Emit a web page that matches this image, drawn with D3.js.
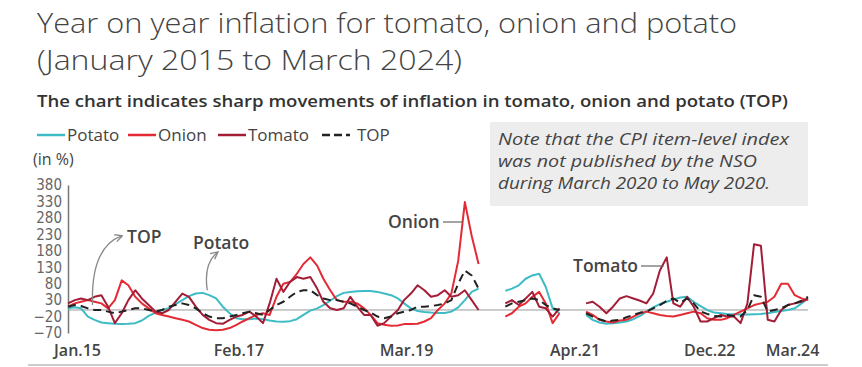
<!DOCTYPE html>
<html>
<head>
<meta charset="utf-8">
<script src="https://cdn.jsdelivr.net/npm/d3@7"></script>
<style>
  body { margin: 0; background: #fff; }
  text { font-family: "Open Sans", sans-serif; }
</style>
</head>
<body>
<svg width="862" height="367"></svg>
<script>
// months Jan 2015 .. Mar 2024, null = index not published / no YoY value
var startMonth = new Date(2015, 0, 1);
var potato = [5,8,5,-20,-30,-38,-40,-42,-43,-42,-40,-32,-18,-8,0,5,18,30,42,50,
  52,45,35,10,-10,-25,-28,-28,-26,-28,-32,-35,-36,-34,-28,-15,-2,5,15,28,
  42,52,55,57,58,58,55,50,45,35,20,5,-3,-6,-8,-9,-9,-5,8,30,
  55,65,null,null,null,58,65,75,95,105,110,70,5,-10,null,null,null,-15,-30,-38,
  -42,-40,-38,-35,-28,-18,-5,8,18,25,32,38,40,25,12,0,-8,-10,-12,-13,
  -14,-14,-13,-12,-10,-6,-3,0,5,20,35];
var onion = [10,20,25,30,25,20,5,30,90,75,40,20,5,-10,-15,-20,-25,-30,-35,-45,
  -55,-60,-62,-60,-55,-45,-35,-25,-15,-10,-15,40,80,85,110,140,160,135,95,60,
  30,25,25,20,5,-15,-40,-45,-48,-47,-43,-43,-42,-35,-25,0,20,50,150,328,
  225,140,null,null,null,-20,-10,10,20,40,55,20,-40,-10,null,null,null,-5,-15,-30,
  -35,-38,-32,-30,-20,-10,-5,-10,-15,-18,-20,-15,-10,-5,-10,-25,-30,-30,-25,-15,
  -5,5,15,20,25,40,80,80,45,35,30];
var tomato = [20,30,35,30,40,45,10,-40,-10,30,60,35,15,-5,-10,0,25,50,40,10,
  -15,-30,-40,-42,-30,-20,-15,-5,-20,-40,20,95,55,85,100,95,100,65,25,5,
  0,5,40,10,-15,-15,-48,-40,-20,0,30,50,75,60,40,45,60,40,45,60,
  30,0,null,null,null,20,30,15,35,55,10,5,-20,5,null,null,null,20,25,10,
  -10,10,35,42,35,28,20,50,120,160,20,10,40,10,-35,-35,-25,-15,-20,-20,
  -40,20,200,195,-30,-35,0,15,20,25,35];
var top3 = [10,15,12,5,0,0,-5,-10,-5,0,5,5,0,-5,0,10,15,20,15,5,
  -10,-20,-25,-25,-20,-15,-10,-5,-10,-15,0,15,25,40,55,60,60,45,35,30,
  30,25,20,10,0,-8,-20,-25,-20,-10,-5,0,10,10,12,15,20,30,80,120,
  105,65,null,null,null,10,20,25,30,35,30,15,5,0,null,null,null,-10,-20,-28,
  -35,-32,-30,-22,-15,-8,-5,5,15,28,35,22,35,20,-5,-12,-18,-20,-15,-18,
  -20,0,45,40,-5,0,5,15,20,28,40];
var yTicks = [-70,-20,30,80,130,180,230,280,330,380];
var xTickDates = [[2015,0,"Jan.15"],[2017,1,"Feb.17"],[2019,2,"Mar.19"],[2021,3,"Apr.21"],[2022,11,"Dec.22"],[2024,2,"Mar.24"]];
var seriesNames = ["Potato","Onion","Tomato","TOP"];
var seriesColors = ["#3dbcc6","#e42b35","#a31d37","#222"];

var svg = d3.select("svg");
var months = potato.map(function(d,i){ return d3.timeMonth.offset(startMonth, i); });

var x = d3.scaleTime().domain([months[0], months[months.length-1]]).range([68, 808]);
var y = d3.scaleLinear().domain([-70, 380]).range([333, 185]);

// title block
svg.append("text").attr("x",37).attr("y",33).attr("fill","#444")
  .style("font-size","27px").style("font-weight",300)
  .attr("textLength",700).attr("lengthAdjust","spacingAndGlyphs")
  .text("Year on year inflation for tomato, onion and potato");
svg.append("text").attr("x",37).attr("y",70).attr("fill","#444")
  .style("font-size","27px").style("font-weight",300)
  .attr("textLength",425).attr("lengthAdjust","spacingAndGlyphs")
  .text("(January 2015 to March 2024)");
svg.append("text").attr("x",37).attr("y",107).attr("fill","#333")
  .style("font-size","16px").style("font-weight",600)
  .attr("textLength",751).attr("lengthAdjust","spacingAndGlyphs")
  .text("The chart indicates sharp movements of inflation in tomato, onion and potato (TOP)");

// note box
svg.append("rect").attr("x",490).attr("y",122).attr("width",318).attr("height",84).attr("fill","#ededed");
var noteLines = ["Note that the CPI item-level index","was not published by the NSO","during March 2020 to May 2020."];
var noteWidths = [291,259,272];
svg.append("g").selectAll("text").data(noteLines).enter().append("text")
  .attr("x",498).attr("y",function(d,i){ return 145 + i*22; })
  .attr("fill","#444").style("font-size","17px").style("font-style","italic")
  .attr("textLength",function(d,i){ return noteWidths[i]; }).attr("lengthAdjust","spacingAndGlyphs")
  .text(function(d){ return d; });

// legend
var legX = [37,128,218,322];
var leg = svg.append("g").selectAll("g").data(seriesNames).enter().append("g")
  .attr("transform",function(d,i){ return "translate(" + legX[i] + ",135)"; });
leg.append("line").attr("x1",0).attr("x2",28).attr("y1",0).attr("y2",0)
  .attr("stroke",function(d,i){ return seriesColors[i]; }).attr("stroke-width",2.5)
  .attr("stroke-dasharray",function(d){ return d === "TOP" ? "8,4" : null; });
leg.append("text").attr("x",function(d){ return d === "TOP" ? 35 : 30; }).attr("y",6)
  .attr("fill","#444").style("font-size","17px").text(function(d){ return d; });

svg.append("text").attr("x",33).attr("y",165).attr("fill","#444").style("font-size","16px").text("(in %)");

// axes
var yAxis = svg.append("g").attr("transform","translate(68,0)")
  .call(d3.axisLeft(y).tickValues(yTicks).tickSize(0).tickPadding(6));
yAxis.select(".domain").attr("stroke","#777").attr("stroke-width",1.5);
yAxis.selectAll("text").attr("fill","#666").style("font-size","15px")
  .style("font-family","'DejaVu Sans Condensed', 'DejaVu Sans', sans-serif");

var xAxis = svg.append("g").attr("transform","translate(0,341)")
  .call(d3.axisBottom(x).tickValues(xTickDates.map(function(d){ return new Date(d[0],d[1],1); }))
    .tickSize(0).tickPadding(4)
    .tickFormat(function(d,i){ return xTickDates[i][2]; }));
xAxis.select(".domain").remove();
xAxis.selectAll("text").attr("fill","#444").style("font-size","16px").style("font-weight",600)
  .style("font-family","'Open Sans', sans-serif")
  .attr("dx",function(d,i){ return i === 0 ? 9 : (i === xTickDates.length-1 ? -16 : 2); });

// zero line
svg.append("line").attr("x1",68).attr("x2",808).attr("y1",y(0)).attr("y2",y(0))
  .attr("stroke","#999").attr("stroke-width",1);

// series
var line = d3.line()
  .defined(function(d){ return d !== null; })
  .x(function(d,i){ return x(months[i]); })
  .y(function(d){ return y(d); });
var allSeries = [potato, onion, tomato, top3];
svg.append("g").selectAll("path").data(allSeries).enter().append("path")
  .attr("d",line).attr("fill","none")
  .attr("stroke",function(d,i){ return seriesColors[i]; })
  .attr("stroke-width",2)
  .attr("stroke-linejoin","round")
  .attr("stroke-dasharray",function(d,i){ return i === 3 ? "8,5" : null; });

// annotations
svg.append("defs").append("marker").attr("id","arr").attr("viewBox","0 0 10 10")
  .attr("refX",8).attr("refY",5).attr("markerWidth",7).attr("markerHeight",7).attr("orient","auto")
  .append("path").attr("d","M1,1 L9,5 L1,9").attr("fill","none").attr("stroke","#888").attr("stroke-width",1.5);

function curveArrow(x0,y0,cx,cy,x1,y1){
  svg.append("path").attr("d","M"+x0+","+y0+" Q"+cx+","+cy+" "+x1+","+y1)
    .attr("fill","none").attr("stroke","#888").attr("stroke-width",1.3).attr("marker-end","url(#arr)");
}
var topX = x(d3.timeMonth.offset(startMonth,4));
curveArrow(topX-2, y(15), topX-4, y(190), topX+27, y(225));
svg.append("text").attr("x",127).attr("y",243).attr("fill","#444").style("font-size","17.5px").style("font-weight",600).text("TOP");

var potX = x(d3.timeMonth.offset(startMonth,21));
curveArrow(potX-2, y(60), potX-6, y(140), potX+8, y(175));
svg.append("text").attr("x",193).attr("y",249).attr("fill","#444").style("font-size","17.5px").style("font-weight",600).text("Potato");

svg.append("text").attr("x",388).attr("y",228).attr("fill","#444").style("font-size","17.5px").style("font-weight",600).text("Onion");
svg.append("line").attr("x1",443).attr("x2",x(d3.timeMonth.offset(startMonth,59))-2)
  .attr("y1",222).attr("y2",222).attr("stroke","#666").attr("stroke-width",1.2);

svg.append("text").attr("x",573).attr("y",272).attr("fill","#444").style("font-size","17.5px").style("font-weight",600).text("Tomato");
svg.append("line").attr("x1",641).attr("x2",x(d3.timeMonth.offset(startMonth,89))-3)
  .attr("y1",266).attr("y2",266).attr("stroke","#666").attr("stroke-width",1.2);

// bottom rule
svg.append("line").attr("x1",28).attr("x2",828).attr("y1",365).attr("y2",365).attr("stroke","#bbb").attr("stroke-width",1.5);
</script>
</body>
</html>
